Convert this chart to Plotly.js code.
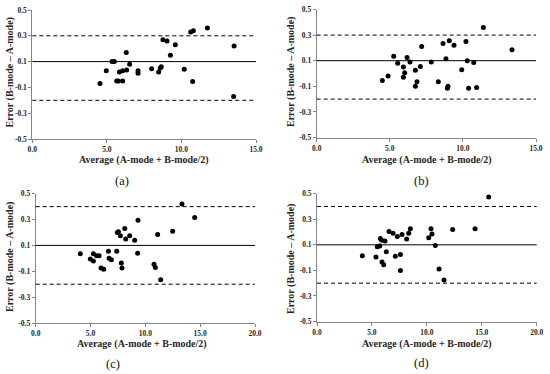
<!DOCTYPE html>
<html>
<head>
<meta charset="utf-8">
<script src="https://cdn.plot.ly/plotly-3.0.1.min.js"></script>
<style>html,body{margin:0;padding:0;background:#fff;}#chart{width:550px;height:374px;}</style>
</head>
<body>
<div id="chart"></div>
<script>
// Panel (a)
const aX = [4.54, 4.96, 5.35, 5.5, 5.66, 5.77, 5.84, 6.06, 6.06, 6.30, 6.33, 6.53, 7.09, 7.09, 8.0, 8.47, 8.58, 8.65, 8.76, 9.03, 9.26, 9.59, 10.19, 10.62, 10.75, 10.80, 11.74, 13.53, 13.5];
const aY = [-0.07, 0.03, 0.10, 0.10, -0.05, -0.05, 0.02, 0.03, -0.05, 0.17, 0.035, 0.08, 0.03, 0.01, 0.045, 0.02, 0.05, 0.06, 0.27, 0.26, 0.15, 0.23, 0.04, 0.33, -0.055, 0.34, 0.36, 0.22, -0.17];
// Panel (b)
const bX = [4.49, 4.88, 5.27, 5.54, 5.93, 5.93, 6.02, 6.18, 6.38, 6.75, 6.75, 6.86, 7.09, 7.18, 7.84, 8.32, 8.64, 8.84, 8.94, 8.98, 9.07, 9.39, 9.92, 10.21, 10.30, 10.39, 10.74, 10.94, 11.40, 13.36];
const bY = [-0.055, -0.02, 0.135, 0.08, 0.05, -0.03, 0.005, 0.125, 0.09, 0.025, -0.10, -0.065, 0.055, 0.21, 0.09, -0.065, 0.235, 0.115, -0.115, -0.10, 0.255, 0.22, 0.03, 0.25, 0.10, -0.115, 0.085, -0.11, 0.36, 0.185];
// Panel (c)
const cX = [4.07, 4.98, 5.26, 5.26, 5.56, 5.78, 5.96, 6.2, 6.63, 6.69, 6.9, 7.39, 7.45, 7.54, 7.72, 7.81, 7.87, 8.12, 8.21, 8.57, 9.03, 9.30, 9.33, 10.79, 10.91, 11.12, 11.40, 12.49, 13.34, 14.5];
const cY = [0.035, -0.005, 0.035, -0.02, 0.02, 0.02, -0.075, -0.085, 0.055, 0.0, -0.01, 0.055, 0.20, 0.205, 0.175, -0.035, -0.075, 0.23, 0.15, 0.175, 0.14, 0.04, 0.295, -0.045, -0.07, 0.185, -0.165, 0.21, 0.42, 0.315];
// Panel (d)
const dX = [4.13, 5.37, 5.49, 5.71, 5.77, 5.89, 5.92, 6.07, 6.19, 6.31, 6.56, 6.92, 7.13, 7.31, 7.59, 7.59, 7.74, 8.16, 8.35, 8.50, 10.17, 10.38, 10.47, 10.77, 11.11, 11.56, 12.35, 14.39, 15.63];
const dY = [0.015, 0.005, 0.085, 0.09, 0.15, 0.135, -0.035, -0.055, 0.13, 0.045, 0.205, 0.19, 0.01, 0.165, 0.025, -0.10, 0.18, 0.145, 0.19, 0.225, 0.155, 0.225, 0.185, 0.095, -0.09, -0.175, 0.22, 0.225, 0.475];

// Reference lines: [mean bias, upper limit, lower limit]
const aLines = [0.1, 0.3, -0.2];
const bLines = [0.1, 0.3, -0.2];
const cLines = [0.1, 0.4, -0.2];
const dLines = [0.1, 0.4, -0.2];

const yTickVals = [-0.5, -0.3, -0.1, 0.1, 0.3, 0.5];
const yTickText = ["-0.5", "-0.3", "-0.1", "0.1", "0.3", "0.5"];
const xRangeAB = [0, 15];
const xRangeCD = [0, 20];
const panelLabels = ["(a)", "(b)", "(c)", "(d)"];
const xTitle = "Average (A-mode + B-mode/2)";
const yTitle = "Error (B-mode \u2013 A-mode)";

const W = 550, H = 374;
const FONT = "Liberation Serif, Times New Roman, serif";
const TXT = "#262626";
const AX = "#858585";

// panel pixel boxes: [left, right, top, bottom]
const boxes = [
  [32.3, 256, 10, 139],
  [316.7, 536, 9.5, 137.5],
  [35.7, 255, 193.7, 323],
  [317, 536.7, 193.7, 321.5]
];
const xRanges = [xRangeAB, xRangeAB, xRangeCD, xRangeCD];
const xs = [aX, bX, cX, dX];
const ys = [aY, bY, cY, dY];
const lines = [aLines, bLines, cLines, dLines];

const data = [];
const layout = {
  width: W, height: H,
  margin: {l: 0, r: 0, t: 0, b: 0},
  paper_bgcolor: "#fff", plot_bgcolor: "#fff",
  showlegend: false,
  shapes: [],
  annotations: []
};

// label positions in pixels
const yTitlePos = [[9.5, 73], [291, 72], [10, 257], [291, 259]];
const xTitlePos = [[144, 159.5], [427, 159.5], [142, 344], [427, 344]];
const lblPos = [[122, 181], [421, 180.5], [113, 363.5], [421, 363]];

for (let i = 0; i < 4; i++) {
  const [l, r, t, b] = boxes[i];
  const sfx = i === 0 ? "" : String(i + 1);
  const xa = "xaxis" + sfx, ya = "yaxis" + sfx;
  layout[xa] = {
    domain: [l / W, r / W], anchor: "y" + sfx,
    range: xRanges[i], tick0: 0, dtick: 5, tickformat: ".1f",
    showgrid: false, zeroline: false, showline: true, linecolor: AX, linewidth: 1,
    ticks: "outside", ticklen: 3, tickcolor: AX,
    tickfont: {family: FONT, size: 7.5, color: TXT, weight: "bold"}
  };
  layout[ya] = {
    domain: [1 - b / H, 1 - t / H], anchor: "x" + sfx,
    range: [-0.5, 0.5], tickvals: yTickVals, ticktext: yTickText,
    showgrid: false, zeroline: false, showline: true, linecolor: AX, linewidth: 1,
    ticks: "outside", ticklen: 3, tickcolor: AX,
    tickfont: {family: FONT, size: 7.5, color: TXT, weight: "bold"}
  };
  data.push({
    type: "scatter", mode: "markers", x: xs[i], y: ys[i],
    xaxis: "x" + sfx, yaxis: "y" + sfx,
    marker: {color: "#000", size: 5}, hoverinfo: "skip", cliponaxis: false
  });
  lines[i].forEach((v, k) => {
    layout.shapes.push({
      type: "line", xref: "x" + sfx + " domain", yref: "y" + sfx,
      x0: 0, x1: 1, y0: v, y1: v,
      line: {color: "#000", width: 1, dash: k === 0 ? "solid" : "4px,3px"}
    });
  });
  layout.annotations.push({
    text: yTitle, xref: "paper", yref: "paper",
    x: yTitlePos[i][0] / W, y: 1 - yTitlePos[i][1] / H,
    xanchor: "center", yanchor: "middle", textangle: -90, showarrow: false,
    font: {family: FONT, size: 10, color: TXT, weight: "bold"}
  });
  layout.annotations.push({
    text: xTitle, xref: "paper", yref: "paper",
    x: xTitlePos[i][0] / W, y: 1 - xTitlePos[i][1] / H,
    xanchor: "center", yanchor: "middle", showarrow: false,
    font: {family: FONT, size: 10, color: TXT, weight: "bold"}
  });
  layout.annotations.push({
    text: panelLabels[i], xref: "paper", yref: "paper",
    x: lblPos[i][0] / W, y: 1 - lblPos[i][1] / H,
    xanchor: "center", yanchor: "middle", showarrow: false,
    font: {family: FONT, size: 12.5, color: "#111"}
  });
}

Plotly.newPlot("chart", data, layout, {staticPlot: true, displayModeBar: false});
</script>
</body>
</html>
